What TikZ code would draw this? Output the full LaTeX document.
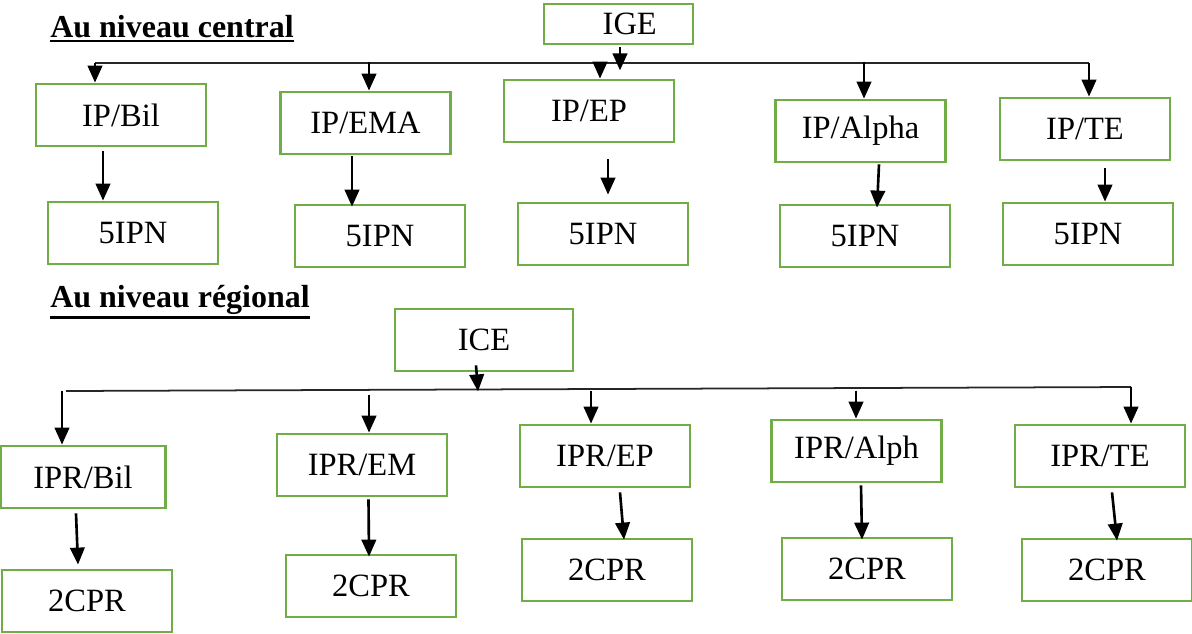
\documentclass[tikz,border=0pt]{standalone}
\usepackage{fontspec}
\setmainfont{Liberation Serif}
\usepackage{xcolor}
\usetikzlibrary{arrows.meta}
\definecolor{boxgreen}{HTML}{70AD47}
\newcommand{\thickul}[1]{\leavevmode\vtop{\hbox{#1}\kern1.2pt\hrule height 1.7pt}}

\begin{document}
\begin{tikzpicture}[x=0.02cm, y=-0.02cm, >={Triangle[length=3.4mm,width=2.9mm]},
    unit/.style={draw=boxgreen, line width=1.6pt, minimum width=3.4cm, minimum height=1.24cm, inner sep=0pt, font=\fontsize{18.5}{22}\selectfont},
    arr/.style={->, line width=1.5pt},
    bus/.style={line width=1pt, draw=black!85},
    heading/.style={anchor=base west, inner sep=0pt, font=\fontsize{18.2}{22}\selectfont\bfseries}]
    \useasboundingbox (0,0) rectangle (1192,633);

    % Titles
    \node[heading] (central) at (50,37) {\thickul{Au niveau central}};
    \node[heading] (regional) at (50,307) {\thickul{Au niveau régional}};

    % Nodes (central)
    \node[unit, minimum width=2.98cm, minimum height=0.8cm] (ige) at (618.5,24) {\hspace*{0.45cm}IGE};
    \node[unit] (ipbil) at (121,115) {IP/Bil};
    \node[unit] (ipema) at (365.5,123) {IP/EMA};
    \node[unit] (ipep) at (589,111) {IP/EP};
    \node[unit] (ipalpha) at (860.5,131) {IP/Alpha};
    \node[unit] (ipte) at (1085,129) {IP/TE};
    \node[unit] (ipnbil) at (133,233) {5IPN};
    \node[unit] (ipnema) at (380,236) {5IPN};
    \node[unit] (ipnep) at (603,234) {5IPN};
    \node[unit] (ipnalpha) at (865,236) {5IPN};
    \node[unit] (ipnte) at (1088,234) {5IPN};

    % Nodes (regional)
    \node[unit, minimum width=3.56cm] (ice) at (484,340) {ICE};
    \node[unit, minimum width=3.3cm] (iprbil) at (83,477) {IPR/Bil};
    \node[unit] (iprem) at (362,465) {IPR/EM};
    \node[unit] (iprep) at (605,456) {IPR/EP};
    \node[unit] (ipralph) at (856.5,451) {IPR/Alph};
    \node[unit] (iprte) at (1100,456) {IPR/TE};
    \node[unit] (cprbil) at (87,601) {2CPR};
    \node[unit] (cprem) at (371,586) {2CPR};
    \node[unit] (cprep) at (607,570) {2CPR};
    \node[unit] (cpralph) at (867,569) {2CPR};
    \node[unit] (cprte) at (1107,570) {2CPR};

    % Bus lines
    \coordinate (busL) at (95,63);
    \coordinate (busR) at (1089,63);
    \coordinate (bustwoL) at (66,391);
    \coordinate (bustwoR) at (1131,387);
    \draw[bus] (busL) -- (busR);
    \draw[bus] (bustwoL) -- (bustwoR);

    % Arrows (central)
    \draw[arr] ([shift={(1.5,2)}]ige.south) -- ++(0,23);
    \draw[arr] (busL) -- (busL |- ipbil.north);
    \draw[arr] ([shift={(3.5,-29)}]ipema.north) -- ([shift={(3.5,0)}]ipema.north);
    \draw[arr] ([shift={(11,-17)}]ipep.north) -- ([shift={(11,0)}]ipep.north);
    \draw[arr] ([shift={(3.5,-37)}]ipalpha.north) -- ([shift={(3.5,0)}]ipalpha.north);
    \draw[arr] (busR) -- (busR |- ipte.north);
    \draw[arr] ([shift={(-18,4)}]ipbil.south) -- ([shift={(-30,0)}]ipnbil.north);
    \draw[arr] ([shift={(-13.5,1)}]ipema.south) -- ([shift={(-28,3)}]ipnema.north);
    \draw[arr] ([shift={(19,16)}]ipep.south) -- ([shift={(5,-7)}]ipnep.north);
    \draw[arr] ([shift={(18.5,1)}]ipalpha.south) -- ([shift={(12,4)}]ipnalpha.north);
    \draw[arr] ([shift={(20,7)}]ipte.south) -- ([shift={(17,0)}]ipnte.north);

    % Arrows (regional)
    \draw[arr] ([shift={(-8,-7)}]ice.south) -- ++(2,26);
    \draw[arr] ([shift={(-21,-54)}]iprbil.north) -- ([shift={(-21,0)}]iprbil.north);
    \draw[arr] ([shift={(7,-38)}]iprem.north) -- ([shift={(7,0)}]iprem.north);
    \draw[arr] ([shift={(-14,-33)}]iprep.north) -- ([shift={(-14,0)}]iprep.north);
    \draw[arr] ([shift={(-0.5,-28)}]ipralph.north) -- ([shift={(-0.5,0)}]ipralph.north);
    \draw[arr] (bustwoR) -- (bustwoR |- iprte.north);
    \draw[arr] ([shift={(-7,4)}]iprbil.south) -- ([shift={(-9,-4)}]cprbil.north);
    \draw[arr] ([shift={(6.5,2)}]iprem.south) -- ([shift={(-2,3)}]cprem.north);
    \draw[arr] ([shift={(15,4)}]iprep.south) -- ([shift={(17,2)}]cprep.north);
    \draw[arr] ([shift={(4.5,2)}]ipralph.south) -- ([shift={(-5,3)}]cpralph.north);
    \draw[arr] ([shift={(12,4)}]iprte.south) -- ([shift={(10,3)}]cprte.north);
  \end{tikzpicture}
\end{document}
